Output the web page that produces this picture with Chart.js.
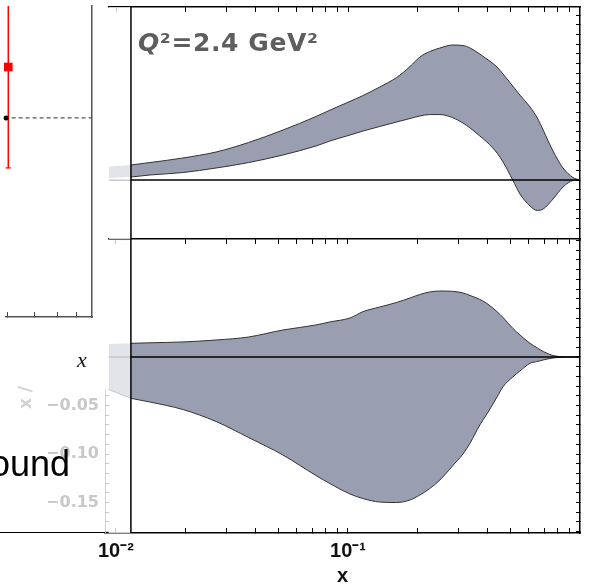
<!DOCTYPE html>
<html><head><meta charset="utf-8">
<script src="https://cdn.jsdelivr.net/npm/chart.js@4.4.1/dist/chart.umd.min.js"></script>
<style>
html,body{margin:0;padding:0;background:#fff;width:589px;height:586px;overflow:hidden;position:relative;}
canvas{position:absolute;left:0;top:0;}
.t{position:absolute;white-space:nowrap;z-index:5;}
</style></head><body>
<canvas id="frag" width="100" height="330"></canvas>
<canvas id="bot" width="589" height="586"></canvas>
<canvas id="top" width="589" height="586"></canvas>
<div class="t" style="left:138px;top:30px;font:bold 25px 'DejaVu Sans';color:#5e5e5e;line-height:25px;letter-spacing:0.6px"><i>Q</i>²=2.4 GeV²</div>
<div class="t" style="left:-100px;width:170px;text-align:right;top:446px;font:36px 'Liberation Sans';line-height:36px;color:#000">ound</div>
<div class="t" style="left:77px;top:349px;font:italic 22px 'Liberation Serif';line-height:22px;color:#111">x</div>
<div class="t" style="left:10px;top:389px;width:30px;text-align:center;font:bold 17px 'DejaVu Sans';line-height:17px;color:#d2d2d2;transform:rotate(-90deg)">x /</div>
<div style="position:absolute;left:0;top:532px;width:105px;height:0;border-top:1.5px solid #000;z-index:4"></div>
<script>
// ---------- data ----------
const xVals = [0.0093, 0.0116, 0.0140, 0.0194, 0.0270, 0.0373, 0.0524, 0.0728, 0.0835, 0.102, 0.116, 0.137, 0.162, 0.185, 0.204, 0.225, 0.249, 0.282, 0.313, 0.336, 0.370, 0.397, 0.439, 0.466, 0.513, 0.551, 0.609, 0.655, 0.694, 0.765, 0.845, 0.933, 1.0];
const topUpper = [0.0139, 0.0155, 0.0180, 0.0227, 0.0289, 0.0387, 0.0515, 0.0655, 0.0720, 0.0811, 0.0871, 0.0959, 0.1057, 0.1170, 0.1268, 0.1325, 0.1361, 0.1392, 0.1387, 0.1361, 0.1299, 0.1247, 0.1165, 0.1093, 0.0969, 0.0876, 0.0753, 0.0639, 0.0515, 0.0299, 0.0124, 0.0026, 0];
const topLower = [0.0021, 0.0031, 0.0052, 0.0077, 0.0124, 0.0180, 0.0258, 0.0351, 0.0402, 0.0464, 0.0505, 0.0552, 0.0598, 0.0634, 0.0660, 0.0675, 0.0675, 0.0644, 0.0588, 0.0536, 0.0454, 0.0392, 0.0278, 0.0186, 0, -0.0144, -0.0268, -0.0314, -0.0299, -0.0196, -0.0072, -0.0005, 0];
const botUpper = [0.0134, 0.0141, 0.0146, 0.0155, 0.0175, 0.0206, 0.0278, 0.0330, 0.0361, 0.0402, 0.0467, 0.0515, 0.0562, 0.0608, 0.0644, 0.0670, 0.0680, 0.0677, 0.0660, 0.0634, 0.0593, 0.0552, 0.0467, 0.0407, 0.0296, 0.0227, 0.0141, 0.0093, 0.0057, 0.0015, 0.0002, 0, 0];
const botLower = [-0.0335, -0.0426, -0.0464, -0.0541, -0.0665, -0.0830, -0.1010, -0.1222, -0.1304, -0.1412, -0.1459, -0.1495, -0.1500, -0.1474, -0.1423, -0.1356, -0.1268, -0.1124, -0.1000, -0.0887, -0.0701, -0.0588, -0.0412, -0.0306, -0.0206, -0.0144, -0.0065, -0.0046, -0.0031, -0.0010, -0.0002, 0, 0];

const xTickVals = [0.01, 0.02, 0.03, 0.04, 0.05, 0.06, 0.07, 0.08, 0.09, 0.1, 0.2, 0.3, 0.4, 0.5, 0.6, 0.7, 0.8, 0.9];
const xLabelVals = [0.01, 0.1];
const xLabelText = ['10⁻²', '10⁻¹'];
const ghostLabelVals = [-0.05, -0.10, -0.15];
const ghostLabelText = ['−0.05', '−0.10', '−0.15'];
const ghostTickRange = [-0.18, -0.04];
const topRange = [-0.0608, 0.1784];
const botRange = [-0.1814, 0.1216];
const ghostAxisX = 0.00897;

// left fragment (another panel, cut off)
const fragXRange = [3.97, 7.9];
const fragYRange = [0, 1.562];
const fragTickVals = [4, 5, 6, 7];
const fragX = [4.04];
const fragY = [1.256];
const fragLo = [0.749];
const fragHi = [1.763];
const fragCap = [3.96, 4.12];
const fragRefY = 1.0;
const fragRefX = [4.15, 7.9];

// ---------- helpers ----------
const FRAME_X = xVals[1];
const P = (xs, ys) => xs.map((x, i) => ({x, y: ys[i]}));
const centTicks = (lo, hi) => { const o = []; for (let k = Math.ceil(lo * 100 - 1e-9); k <= Math.floor(hi * 100 + 1e-9); k++) o.push({value: k / 100}); return o; };
const L = (data, o) => Object.assign({type: 'line', data, pointRadius: 0, borderWidth: 1, fill: false, tension: 0}, o);
const xTickColor = ctx => (ctx.tick && ctx.tick.value < FRAME_X) ? '#c8c8c8' : '#000';
const BAND = '#999eb1', GHOST = '#e3e4e9', EDGE = '#333';
const main = a => a.slice(1), ghost = a => a.slice(0, 2);

function bandSets(up, lo, range, ghostEdge) {
  return [
    L(P([FRAME_X, 1], [0, 0]), {borderColor: '#000', borderWidth: 1.5, order: 0}),
    L(P([FRAME_X, FRAME_X], range), {borderColor: '#000', borderWidth: 1.5, order: 0}),
    L(P(ghost(xVals), [0, 0]), {borderColor: '#bdbdbd', borderWidth: 1.2, order: 1}),
    L(P(ghost(xVals), [range[1], range[1]]), {borderColor: '#d0d0d0', borderWidth: 2.2, order: 1}),
    L(P(ghost(xVals), [range[0], range[0]]), {borderColor: '#d0d0d0', borderWidth: 2.2, order: 1}),
    L(P(main(xVals), main(up)), {borderColor: EDGE, backgroundColor: BAND, fill: 6, cubicInterpolationMode: 'monotone', order: 7}),
    L(P(main(xVals), main(lo)), {borderColor: EDGE, cubicInterpolationMode: 'monotone', order: 6}),
    L(P(ghost(xVals), ghost(up)), {borderColor: 'rgba(0,0,0,0)', borderWidth: 0, backgroundColor: GHOST, fill: 8, order: 9}),
    L(P(ghost(xVals), ghost(lo)), {borderColor: ghostEdge, borderWidth: 1, order: 8})
  ];
}
const base = pad => ({responsive: false, animation: false, devicePixelRatio: 1, events: [],
  plugins: {legend: {display: false}, tooltip: {enabled: false}}, layout: {padding: pad}});
const xTicksFn = s => { s.ticks = xTickVals.map(v => ({value: v})); };

// ---------- top panel ----------
new Chart(document.getElementById('top'), {
  data: {datasets: bandSets(topUpper, topLower, topRange, 'rgba(0,0,0,0)')},
  options: Object.assign(base({top: 7, left: 0, right: 9, bottom: 586 - 239}), {
    scales: {
      x: {type: 'logarithmic', position: 'bottom', min: xVals[0], max: 1, afterFit: s => { s.height = 0; },
        ticks: {display: false}, grid: {display: false}, border: {color: '#000', width: 1.5}},
      x2: {type: 'logarithmic', position: 'top', min: xVals[0], max: 1, afterBuildTicks: xTicksFn, afterFit: s => { s.height = 0; },
        ticks: {display: false}, grid: {drawOnChartArea: false, tickLength: -5, tickColor: xTickColor}, border: {color: '#000', width: 1.5}},
      y: {type: 'linear', position: 'left', min: topRange[0], max: topRange[1], afterFit: s => { s.width = 108.69; },
        ticks: {display: false}, grid: {display: false}, border: {display: false}},
      y2: {type: 'linear', position: 'right', min: topRange[0], max: topRange[1], afterFit: s => { s.width = 0; },
        afterBuildTicks: s => { s.ticks = centTicks(topRange[0], topRange[1]); },
        ticks: {display: false}, grid: {drawOnChartArea: false, tickLength: -4, tickColor: '#000'}, border: {color: '#000', width: 1.5}}
    }
  })
});

// ---------- bottom panel ----------
const botSets = bandSets(botUpper, botLower, botRange, '#c4c4c4');
botSets.push(L(P([ghostAxisX, ghostAxisX], [botLower[0], botRange[0]]), {borderColor: '#c8c8c8', borderWidth: 1.5, order: 1}));
new Chart(document.getElementById('bot'), {
  data: {datasets: botSets},
  options: Object.assign(base({top: 239, left: 0, right: 9, bottom: 0}), {
    scales: {
      x: {type: 'logarithmic', position: 'bottom', min: ghostAxisX, max: 1, afterBuildTicks: xTicksFn, afterFit: s => { s.height = 53; },
        ticks: {autoSkip: false, maxRotation: 0, minRotation: 0, padding: 11, color: '#111',
          font: {family: 'Liberation Sans', size: 20, weight: 'bold'},
          callback: v => { const i = xLabelVals.findIndex(t => Math.abs(t - v) < 1e-9); return i >= 0 ? xLabelText[i] : ''; }},
        grid: {drawOnChartArea: false, tickLength: -5, tickColor: xTickColor}, border: {color: '#000', width: 1.5},
        title: {display: true, text: 'x', color: '#111', font: {family: 'Liberation Sans', size: 20, weight: 'bold', lineHeight: 1}, padding: {top: 0, bottom: 0}}},
      x2: {type: 'logarithmic', position: 'top', min: ghostAxisX, max: 1, afterBuildTicks: xTicksFn, afterFit: s => { s.height = 0; },
        ticks: {display: false}, grid: {drawOnChartArea: false, tickLength: -5, tickColor: xTickColor}, border: {display: false}},
      y: {type: 'linear', position: 'left', min: botRange[0], max: botRange[1], afterFit: s => { s.width = 105; },
        afterBuildTicks: s => { s.ticks = centTicks(ghostTickRange[0], ghostTickRange[1]); },
        ticks: {autoSkip: false, padding: 10, color: '#c8c8c8', font: {family: 'DejaVu Sans', size: 16, weight: 'bold'},
          callback: v => { const i = ghostLabelVals.findIndex(t => Math.abs(t - v) < 1e-9); return i >= 0 ? ghostLabelText[i] : ''; }},
        grid: {drawOnChartArea: false, tickLength: -4, tickColor: '#c8c8c8'}, border: {display: false}},
      y2: {type: 'linear', position: 'right', min: botRange[0], max: botRange[1], afterFit: s => { s.width = 0; },
        afterBuildTicks: s => { s.ticks = centTicks(botRange[0], botRange[1]); },
        ticks: {display: false}, grid: {drawOnChartArea: false, tickLength: -4, tickColor: '#000'}, border: {color: '#000', width: 1.5}}
    }
  })
});

// ---------- left fragment ----------
new Chart(document.getElementById('frag'), {
  data: {datasets: [
    L(P([fragX[0], fragX[0]], [fragLo[0], fragHi[0]]), {borderColor: '#ff0000', borderWidth: 1.5, order: 1}),
    L(P(fragCap, [fragLo[0], fragLo[0]]), {borderColor: '#ff0000', borderWidth: 1.3, clip: false, order: 1}),
    L(P(fragX, fragY), {showLine: false, pointRadius: 6.1, pointStyle: 'rect', pointBackgroundColor: '#ff0000', pointBorderColor: '#ff0000', pointBorderWidth: 0, clip: false, order: 0}),
    L(P(fragRefX, [fragRefY, fragRefY]), {borderColor: '#555', borderWidth: 1.2, borderDash: [4, 3], order: 2}),
    L(P([fragXRange[0]], [fragRefY]), {showLine: false, pointRadius: 2.5, pointBackgroundColor: '#000', pointBorderWidth: 0, clip: false, order: 0})
  ]},
  options: Object.assign(base({top: 0, left: 0, right: 8, bottom: 13}), {
    scales: {
      x: {type: 'logarithmic', position: 'bottom', min: fragXRange[0], max: fragXRange[1], afterFit: s => { s.height = 0; },
        afterBuildTicks: s => { s.ticks = fragTickVals.map(v => ({value: v})); },
        ticks: {display: false}, grid: {drawOnChartArea: false, tickLength: -5, tickColor: '#444'}, border: {color: '#555', width: 1.5}},
      y: {type: 'linear', position: 'left', min: fragYRange[0], max: fragYRange[1], afterFit: s => { s.width = 0; },
        ticks: {display: false}, grid: {display: false}, border: {display: false}},
      y2: {type: 'linear', position: 'right', min: fragYRange[0], max: fragYRange[1], afterFit: s => { s.width = 0; },
        ticks: {display: false}, grid: {display: false}, border: {color: '#555', width: 1.5}}
    }
  })
});
</script>
</body></html>
